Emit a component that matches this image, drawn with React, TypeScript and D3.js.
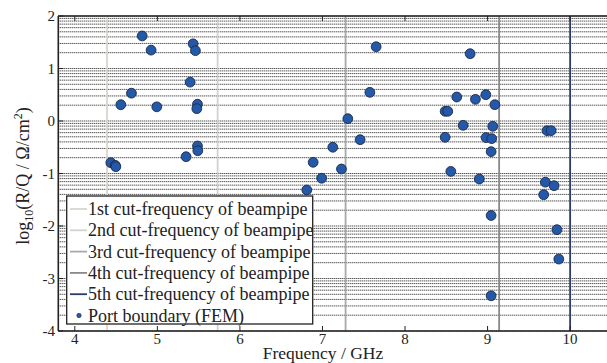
import React from "react";
import * as d3 from "d3";

// cut-off frequencies of the beampipe (GHz)
const cutFreqs = [4.39, 5.73, 7.28, 9.14, 10.0];
const cutLabels = [
  "1st cut-frequency of beampipe",
  "2nd cut-frequency of beampipe",
  "3rd cut-frequency of beampipe",
  "4th cut-frequency of beampipe",
  "5th cut-frequency of beampipe",
];
const cutColors = ["#d8d5cd", "#d2d2d2", "#a9a9a9", "#8a8a8a", "#2c3a6c"];

// port boundary (FEM) modes
const freq = [
  4.816, 4.924, 5.433, 5.461, 5.397, 4.686, 4.557, 4.993, 5.486, 5.478,
  7.65, 7.574, 7.307, 7.456, 7.125, 6.887, 7.23, 6.99, 6.81, 5.486,
  5.49, 5.348, 4.436, 4.49, 4.497, 8.789, 8.627, 8.853, 8.979, 9.088,
  8.486, 8.518, 8.704, 9.063, 9.72, 9.77, 8.486, 8.982, 9.05, 9.043,
  8.555, 8.9, 9.7, 9.806, 9.68, 9.043, 9.84, 9.863, 9.043,
];
const logRQ = [
  1.62, 1.35, 1.47, 1.34, 0.74, 0.53, 0.31, 0.27, 0.32, 0.235,
  1.415, 0.546, 0.044, -0.356, -0.5, -0.787, -0.914, -1.09, -1.314, -0.476,
  -0.566, -0.68, -0.794, -0.845, -0.87, 1.282, 0.457, 0.413, 0.501, 0.311,
  0.185, 0.185, -0.082, -0.101, -0.184, -0.184, -0.31, -0.317, -0.336, -0.584,
  -0.96, -1.105, -1.165, -1.232, -1.404, -1.8, -2.07, -2.63, -3.33,
];
const xTicks = [4, 5, 6, 7, 8, 9, 10];
const yTicks = [-4, -3, -2, -1, 0, 1, 2];

const W = 607;
const H = 363;
const font = "Liberation Serif, Times New Roman, DejaVu Serif, serif";

export default function App() {
  const x = d3.scaleLinear().domain([3.8, 10.5]).range([58.3, 611.4]);
  const y = d3.scaleLinear().domain([-4, 2]).range([331, 16]);

  // log-style grid: n + log10(k)
  const grid: number[] = [];
  for (let n = -4; n < 2; n++) {
    for (let k = 1; k <= 9; k++) grid.push(n + Math.log10(k));
  }
  grid.push(2);

  const [x0, x1] = x.range();
  const [yb, yt] = y.range();

  const lgX = 66.7;
  const lgY = 196;
  const lgW = 246;
  const lgH = 128;
  const rowH = 21.3;

  return (
    <svg width={W} height={H} style={{ position: "absolute", left: 0, top: 0, background: "#fff", fontFamily: font }}>
      <g>
        {grid.map((g, i) => (
          <line key={i} x1={x0} x2={x1} y1={y(g)} y2={y(g)} stroke="#111" strokeWidth={1} strokeDasharray="1,1" />
        ))}
      </g>
      {cutFreqs.map((f, i) => (
        <line key={i} x1={x(f)} x2={x(f)} y1={yt} y2={yb} stroke={cutColors[i]} strokeWidth={1.8} />
      ))}
      {freq.map((f, i) => (
        <circle key={i} cx={x(f)} cy={y(logRQ[i])} r={4.9} fill="#2458a8" stroke="#1d2a48" strokeWidth={0.9} />
      ))}
      {/* axes */}
      <line x1={x0} x2={x1} y1={yt} y2={yt} stroke="#222" strokeWidth={1.6} />
      <line x1={x0} x2={x1} y1={yb} y2={yb} stroke="#222" strokeWidth={1.6} />
      <line x1={x0} x2={x0} y1={yt} y2={yb} stroke="#222" strokeWidth={1.6} />
      {xTicks.map((t) => (
        <g key={t}>
          <line x1={x(t)} x2={x(t)} y1={yb} y2={yb - 5} stroke="#222" strokeWidth={1} />
          <line x1={x(t)} x2={x(t)} y1={yt} y2={yt + 5} stroke="#222" strokeWidth={1} />
          <text x={x(t)} y={344} textAnchor="middle" fontSize={15} fill="#222">
            {t}
          </text>
        </g>
      ))}
      {yTicks.map((t) => (
        <g key={t}>
          <line x1={x0} x2={x0 + 5} y1={y(t)} y2={y(t)} stroke="#222" strokeWidth={1} />
          <text x={55} y={y(t) + 5} textAnchor="end" fontSize={15} fill="#222">
            {t}
          </text>
        </g>
      ))}
      <text x={323} y={359} textAnchor="middle" fontSize={17.5} fill="#222">
        Frequency / GHz
      </text>
      <text transform={`translate(29,176) rotate(-90)`} textAnchor="middle" fontSize={18} fill="#222">
        log<tspan fontSize={12} dy={4}>10</tspan>
        <tspan dy={-4}>(R/Q / Ω/cm</tspan>
        <tspan fontSize={12} dy={-7}>2</tspan>
        <tspan dy={7}>)</tspan>
      </text>
      {/* legend */}
      <rect x={lgX} y={lgY} width={lgW} height={lgH} fill="#fff" stroke="#222" strokeWidth={1.3} />
      {cutLabels.map((l, i) => {
        const cy = lgY + 13 + i * rowH;
        return (
          <g key={l}>
            <line x1={70} x2={87} y1={cy} y2={cy} stroke={cutColors[i]} strokeWidth={1.8} />
            <text x={88} y={cy + 6} fontSize={18} fill="#222">
              {l}
            </text>
          </g>
        );
      })}
      <circle cx={79} cy={lgY + 13 + 5 * rowH} r={2.2} fill="#2458a8" stroke="#1d2a48" strokeWidth={0.6} />
      <text x={88} y={lgY + 19 + 5 * rowH} fontSize={18} fill="#222">
        Port boundary (FEM)
      </text>
    </svg>
  );
}
